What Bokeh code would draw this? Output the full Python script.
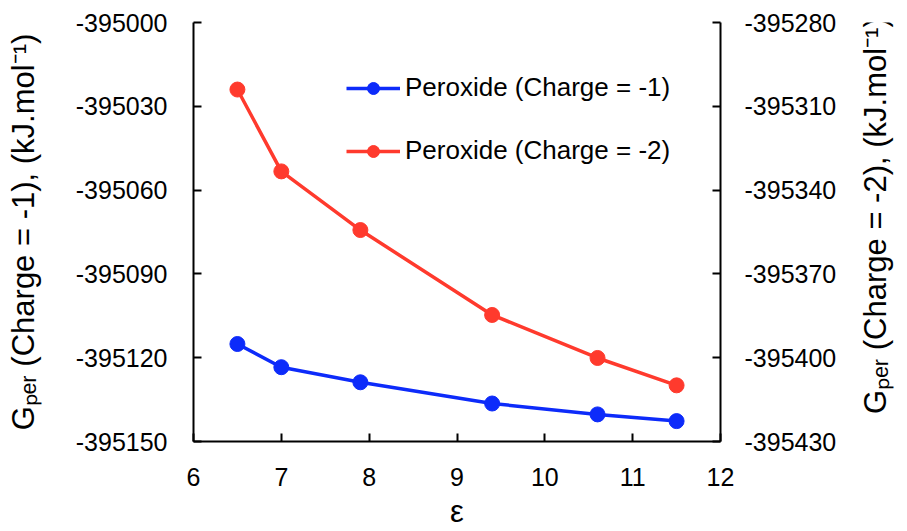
import math
from bokeh.plotting import figure
from bokeh.layouts import row
from bokeh.models import Range1d, LinearAxis, FixedTicker, NumeralTickFormatter, Legend, LegendItem
from bokeh.core.properties import value
from bokeh.embed import file_html
from bokeh.resources import INLINE

# data
eps = [6.5, 7.0, 7.9, 9.4, 10.6, 11.5]
g_charge1 = [-395115.1, -395123.4, -395128.8, -395136.4, -395140.3, -395142.7]
g_charge2 = [-395304.0, -395333.3, -395354.3, -395384.7, -395400.1, -395409.9]
x_ticks = [6, 7, 8, 9, 10, 11, 12]
left_ticks = [-395150, -395120, -395090, -395060, -395030, -395000]
right_ticks = [-395430, -395400, -395370, -395340, -395310, -395280]
label1 = "Peroxide (Charge = -1)"
label2 = "Peroxide (Charge = -2)"
left_title = "Gₚₑᵣ (Charge = -1), (kJ.mol⁻¹)"
right_title = "Gₚₑᵣ (Charge = -2), (kJ.mol⁻¹)"

BLUE = "#0D2BFA"
RED = "#FF3A2D"
FONT = "Liberation Sans"

p = figure(width=855, height=531, output_backend="svg", toolbar_location=None,
           x_range=Range1d(6, 12), y_range=Range1d(-395150, -395000),
           min_border_left=193, min_border_right=135, min_border_top=22, min_border_bottom=88)
p.extra_y_ranges = {"right": Range1d(-395430, -395280)}
p.outline_line_color = None
p.grid.visible = False
p.background_fill_color = "white"
p.border_fill_color = "white"

def style_axis(ax, standoff):
    ax.axis_line_color = "black"
    ax.axis_line_width = 2
    ax.major_tick_line_color = "black"
    ax.major_tick_line_width = 2
    ax.major_tick_in = 8
    ax.major_tick_out = 0
    ax.minor_tick_line_color = None
    ax.major_label_text_font = FONT
    ax.major_label_text_font_size = "25px"
    ax.major_label_text_color = "black"
    ax.major_label_standoff = standoff
    ax.axis_label_text_font = FONT
    ax.axis_label_text_font_size = "31px"
    ax.axis_label_text_font_style = "normal"
    ax.axis_label_text_color = "black"

xa = p.xaxis[0]
style_axis(xa, 26)
xa.ticker = FixedTicker(ticks=x_ticks)
xa.axis_label = "ε"
xa.axis_label_standoff = 5

ya = p.yaxis[0]
style_axis(ya, 26)
ya.ticker = FixedTicker(ticks=left_ticks)
ya.formatter = NumeralTickFormatter(format="0")
ya.axis_label = left_title
ya.axis_label_standoff = 32

yr = LinearAxis(y_range_name="right")
style_axis(yr, 24)
yr.ticker = FixedTicker(ticks=right_ticks)
yr.formatter = NumeralTickFormatter(format="0")
p.add_layout(yr, "right")

l1 = p.line(eps, g_charge1, line_color=BLUE, line_width=3.5)
s1 = p.scatter(eps, g_charge1, size=15, fill_color=BLUE, line_color=BLUE)
l2 = p.line(eps, g_charge2, line_color=RED, line_width=3.5, y_range_name="right")
s2 = p.scatter(eps, g_charge2, size=15, fill_color=RED, line_color=RED, y_range_name="right")

legend = Legend(items=[LegendItem(label=label1, renderers=[l1, s1]),
                       LegendItem(label=label2, renderers=[l2, s2])],
                location=(153, 275))
legend.border_line_color = None
legend.background_fill_alpha = 0
legend.padding = 0
legend.margin = 0
legend.glyph_width = 54
legend.glyph_height = 30
legend.label_height = 30
legend.spacing = 32
legend.label_standoff = 5
legend.label_text_font = FONT
legend.label_text_font_size = "26px"
legend.label_text_color = "black"
p.add_layout(legend, "center")

# narrow strip holding the right-hand axis title, reading bottom-to-top
p2 = figure(width=52, height=531, output_backend="svg", toolbar_location=None,
            x_range=Range1d(0, 52), y_range=Range1d(0, 421),
            x_axis_location=None, y_axis_location=None,
            min_border_left=0, min_border_right=0, min_border_top=22, min_border_bottom=88)
p2.outline_line_color = None
p2.grid.visible = False
p2.background_fill_color = "white"
p2.border_fill_color = "white"
p2.text(x=[20], y=[227], text=[right_title], angle=math.pi / 2,
        text_align="center", text_baseline="middle", text_font=value(FONT),
        text_font_size="31px", text_color="black")

layout = row(p, p2, spacing=0)
open("out.html", "w").write(file_html(layout, INLINE))
